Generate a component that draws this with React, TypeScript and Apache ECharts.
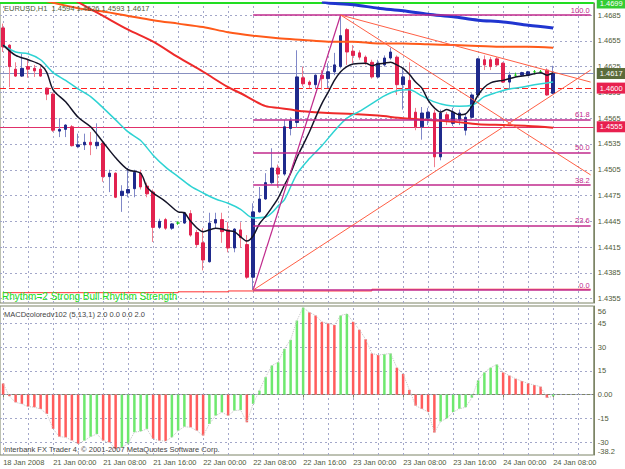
import React, { useEffect, useRef } from 'react';
import * as echarts from 'echarts';

// ---------- data ----------
const symbolName = 'EURUSD,H1';
const timeLabels = ['18 Jan 2008', '21 Jan 00:00', '21 Jan 08:00', '21 Jan 16:00', '22 Jan 00:00', '22 Jan 08:00',
  '22 Jan 16:00', '23 Jan 00:00', '23 Jan 08:00', '23 Jan 16:00', '24 Jan 00:00', '24 Jan 08:00'];
const priceTicks = [1.4355, 1.4385, 1.4415, 1.4445, 1.4475, 1.4505, 1.4535, 1.4565, 1.4595, 1.4625, 1.4655, 1.4685];
const macdTicks = [56, 45, 30, 15, 0, -15, -30, -38.2];
const macdGridLevels = [45, 30, 15, 0, -15, -30];

const opens = [1.4670, 1.4650, 1.4622, 1.4614, 1.4625, 1.4623, 1.4622, 1.4600, 1.4593, 1.4550,
  1.4552, 1.4555, 1.4532, 1.4534, 1.4537, 1.4533, 1.4536, 1.4497, 1.4501, 1.4475,
  1.4478, 1.4483, 1.4501, 1.4486, 1.4479, 1.4438, 1.4447, 1.4437, 1.4443, 1.4443,
  1.4454, 1.4432, 1.4420, 1.4398, 1.4443, 1.4447, 1.4435, 1.4414, 1.4435, 1.4418,
  1.4380, 1.4456, 1.4471, 1.4490, 1.4507, 1.4500, 1.4553, 1.4560, 1.4612, 1.4607,
  1.4604, 1.4615, 1.4611, 1.4619, 1.4625, 1.4668, 1.4643, 1.4641, 1.4636, 1.4630,
  1.4613, 1.4627, 1.4635, 1.4636, 1.4604, 1.4609, 1.4572, 1.4555, 1.4565, 1.4571,
  1.4520, 1.4569, 1.4559, 1.4563, 1.4551, 1.4566, 1.4592, 1.4633, 1.4633, 1.4634,
  1.4629, 1.4607, 1.4615, 1.4615, 1.4615, 1.4619, 1.4619, 1.4621, 1.4594];
const highs = [1.4675, 1.4651, 1.4630, 1.4640, 1.4634, 1.4627, 1.4625, 1.4601, 1.4595, 1.4565,
  1.4558, 1.4557, 1.4547, 1.4547, 1.4549, 1.4559, 1.4537, 1.4505, 1.4502, 1.4487,
  1.4507, 1.4505, 1.4505, 1.4490, 1.4482, 1.4448, 1.4449, 1.4443, 1.4445, 1.4456,
  1.4458, 1.4435, 1.4437, 1.4455, 1.4455, 1.4455, 1.4444, 1.4437, 1.4444, 1.4429,
  1.4466, 1.4485, 1.4501, 1.4530, 1.4511, 1.4563, 1.4566, 1.4644, 1.4625, 1.4609,
  1.4616, 1.4621, 1.4629, 1.4641, 1.4685, 1.4670, 1.4650, 1.4644, 1.4638, 1.4633,
  1.4633, 1.4638, 1.4647, 1.4638, 1.4623, 1.4630, 1.4577, 1.4578, 1.4577, 1.4575,
  1.4575, 1.4572, 1.4577, 1.4575, 1.4571, 1.4594, 1.4635, 1.4638, 1.4636, 1.4636,
  1.4630, 1.4619, 1.4618, 1.4619, 1.4620, 1.4621, 1.4621, 1.4623, 1.4626];
const lows = [1.4642, 1.4601, 1.4613, 1.4613, 1.4612, 1.4613, 1.4613, 1.4586, 1.4549, 1.4543,
  1.4543, 1.4532, 1.4530, 1.4528, 1.4522, 1.4529, 1.4491, 1.4479, 1.4472, 1.4456,
  1.4473, 1.4473, 1.4482, 1.4473, 1.4421, 1.4436, 1.4435, 1.4435, 1.4441, 1.4442,
  1.4427, 1.4415, 1.4388, 1.4397, 1.4437, 1.4420, 1.4409, 1.4409, 1.4414, 1.4378,
  1.4365, 1.4455, 1.4470, 1.4488, 1.4484, 1.4498, 1.4545, 1.4554, 1.4602, 1.4600,
  1.4600, 1.4598, 1.4600, 1.4615, 1.4623, 1.4627, 1.4629, 1.4633, 1.4627, 1.4611,
  1.4611, 1.4625, 1.4633, 1.4592, 1.4575, 1.4563, 1.4551, 1.4540, 1.4557, 1.4508,
  1.4516, 1.4557, 1.4556, 1.4557, 1.4545, 1.4565, 1.4591, 1.4621, 1.4621, 1.4625,
  1.4606, 1.4600, 1.4613, 1.4614, 1.4614, 1.4616, 1.4618, 1.4591, 1.4593];
const closes = [1.4648, 1.4625, 1.4614, 1.4623, 1.4622, 1.4620, 1.4614, 1.4593, 1.4551, 1.4552,
  1.4557, 1.4533, 1.4534, 1.4537, 1.4534, 1.4537, 1.4497, 1.4501, 1.4473, 1.4480,
  1.4482, 1.4502, 1.4485, 1.4477, 1.4438, 1.4445, 1.4437, 1.4442, 1.4443, 1.4455,
  1.4429, 1.4418, 1.4400, 1.4443, 1.4447, 1.4433, 1.4414, 1.4436, 1.4426, 1.4380,
  1.4456, 1.4471, 1.4490, 1.4507, 1.4500, 1.4555, 1.4562, 1.4613, 1.4605, 1.4604,
  1.4615, 1.4611, 1.4619, 1.4627, 1.4661, 1.4642, 1.4638, 1.4636, 1.4630, 1.4613,
  1.4629, 1.4635, 1.4642, 1.4604, 1.4613, 1.4565, 1.4555, 1.4571, 1.4572, 1.4520,
  1.4571, 1.4563, 1.4572, 1.4571, 1.4566, 1.4592, 1.4634, 1.4627, 1.4625, 1.4627,
  1.4607, 1.4615, 1.4615, 1.4618, 1.4619, 1.4619, 1.4619, 1.4592, 1.4617];

// fast MA (black)
const fastMaIdx = [0, 2, 4, 6, 7, 8, 10, 12, 14, 16, 18, 20, 22, 23, 24, 26, 28, 29, 30, 32, 34, 35, 36, 37, 38, 39,
  40, 41, 42, 43, 44, 45, 46, 47, 48, 49, 50, 51, 52, 53, 54, 55, 56, 58, 59, 60, 61, 62, 63, 64, 65, 66, 67, 68,
  69, 70, 71, 72, 73, 74, 75, 76, 77, 78, 79, 80, 82, 84, 86, 87, 88];
const fastMaVal = [1.4650, 1.4638, 1.4633, 1.4627, 1.4618, 1.4598, 1.4584, 1.4566, 1.4555, 1.4537, 1.4519, 1.4505,
  1.4501, 1.4485, 1.4478, 1.4468, 1.4456, 1.4455, 1.4445, 1.4433, 1.4437, 1.4436, 1.4434, 1.4433, 1.4427, 1.4422,
  1.4428, 1.4442, 1.4451, 1.4461, 1.4472, 1.4487, 1.4501, 1.4519, 1.4534, 1.4549, 1.4566, 1.4582, 1.4595, 1.4609,
  1.4619, 1.4625, 1.4628, 1.4629, 1.4626, 1.4628, 1.4629, 1.4630, 1.4627, 1.4623, 1.4616, 1.4607, 1.4600, 1.4586,
  1.4577, 1.4572, 1.4575, 1.4572, 1.4569, 1.4570, 1.4579, 1.4592, 1.4601, 1.4606, 1.4608, 1.4609, 1.4613, 1.4615,
  1.4618, 1.4615, 1.4618];
// medium MA (cyan)
const midMaIdx = [0, 2, 4, 6, 8, 10, 12, 14, 16, 18, 20, 22, 24, 26, 28, 30, 32, 34, 36, 38, 40, 42, 43, 44, 45, 47,
  49, 51, 53, 55, 57, 59, 61, 63, 65, 67, 69, 71, 73, 75, 77, 79, 81, 83, 85, 87, 88];
const midMaVal = [1.4650, 1.4642, 1.4640, 1.4633, 1.4618, 1.4609, 1.4599, 1.4590, 1.4577, 1.4563, 1.4549, 1.4539,
  1.4522, 1.4508, 1.4497, 1.4486, 1.4478, 1.4471, 1.4466, 1.4459, 1.4449, 1.4450, 1.4455, 1.4463, 1.4470, 1.4500,
  1.4518, 1.4533, 1.4550, 1.4565, 1.4573, 1.4582, 1.4591, 1.4597, 1.4598, 1.4591, 1.4584, 1.4580, 1.4579, 1.4580,
  1.4590, 1.4595, 1.4599, 1.4601, 1.4604, 1.4606, 1.4607];
// slow MA (red)
const slowMaIdx = [10, 12, 16, 20, 24, 28, 32, 36, 38, 40, 42, 44, 46, 48, 52, 56, 60, 64, 68, 72, 76, 80, 84, 88];
const slowMaVal = [1.4708, 1.4700, 1.4684, 1.4668, 1.4654, 1.4636, 1.4619, 1.4601, 1.4594, 1.4586, 1.4579, 1.4577,
  1.4575, 1.4573, 1.4571, 1.4570, 1.4568, 1.4565, 1.4563, 1.4561, 1.4558, 1.4557, 1.4556, 1.4554];
// long MA (orange)
const longMaIdx = [7, 12, 16, 20, 24, 28, 32, 36, 40, 44, 48, 52, 56, 60, 64, 68, 72, 76, 80, 84, 88];
const longMaVal = [1.4701, 1.4693, 1.4689, 1.4684, 1.4679, 1.4675, 1.4671, 1.4665, 1.4661, 1.4658, 1.4656, 1.4654,
  1.4654, 1.4652, 1.4652, 1.4651, 1.4650, 1.4649, 1.4648, 1.4648, 1.4647];
// very long MA (blue)
const trendMaIdx = [51, 52, 56, 60, 64, 68, 72, 76, 80, 84, 88];
const trendMaVal = [1.4700, 1.4699, 1.4697, 1.4693, 1.4690, 1.4686, 1.4683, 1.4679, 1.4677, 1.4673, 1.4670];
// rhythm indicator line at the bottom
const rhythmIdx = [0, 28, 36, 59, 94];
const rhythmVal = [1.4362, 1.4363, 1.4364, 1.4366, 1.4366];

// Fibonacci retracement
const fibStartIdx = 40;
const fibHighIdx = 54;
const fibEndIdx = 94;
const fibLow = 1.4365;
const fibHigh = 1.4685;
const fibLabels = ['0.0', '23.6', '38.2', '50.0', '61.8', '100.0'];
const fibLevels = [1.4365, 1.4440, 1.4487, 1.4525, 1.4563, 1.4685];
// trend lines: [startIdx, startPrice, endIdx, endPrice]
const trendLines = [[40, 1.4365, 94, 1.4621], [54, 1.4685, 94, 1.4607], [54, 1.4685, 94, 1.4499]];

// horizontal levels
const bidPrice = 1.4617;
const levelRed = 1.4600;
const levelRed2 = 1.4555;
const levelGreen = 1.4699;

const macd = [7, -1, -4.9, -5.9, -7.6, -8, -9.1, -12.2, -21.7, -26.6,
  -27, -29, -31.2, -29.1, -26.6, -24.9, -29.1, -30.2, -34.4, -33.3,
  -31, -23.8, -23.2, -21.7, -28, -29.1, -29.4, -27, -22.8, -20.3,
  -20.7, -22.8, -25.9, -18.6, -13.3, -11.2, -13.3, -10.1, -9.8, -17.5,
  -5.9, 2.5, 11, 18.4, 20.4, 28.9, 34.6, 46.8, 55, 52,
  50, 46, 45, 44, 50, 51, 46, 41, 35, 26,
  25, 25.5, 26, 17, 13, 3, -7, -9, -11, -24,
  -17, -15, -11, -9, -8, -2, 9, 14, 17, 19,
  14, 12, 10, 8.5, 7, 6, 5, -2, -1];

// ---------- styling ----------
const SLOTS = 95;
const FONT = 'Liberation Sans';
const TXT = '#4f5a3a';
const FRAME = '#7c8466';
const BULL = '#1f2a8c';
const BEAR = '#e2224f';
const BULL_WICK = '#8088c8';
const BEAR_WICK = '#f0808f';
const DOJI = '#22cc22';
const FIB = '#c02a8c';
const TREND = '#ff5f45';

export default function App() {
  const ref = useRef<HTMLDivElement>(null);
  useEffect(() => {
    document.body.style.margin = '0';
    if (!ref.current) return;
    const chart = echarts.init(ref.current, null, { renderer: 'svg' });
    const cats = Array.from({ length: SLOTS }, (_, i) => String(i));
    const vertIdx = Array.from({ length: 24 }, (_, k) => k * 4);
    const gridStyle = { color: '#a3a7c9', width: 1, type: [2, 3] };
    const dojiStyle = { color: DOJI, color0: DOJI, borderColor: DOJI, borderColor0: DOJI };
    const macdMax = macdTicks[0];
    const macdMin = macdTicks[macdTicks.length - 1];

    const wickData = opens.map((o, i) => {
      const item: any = { value: [o, closes[i], lows[i], highs[i]] };
      if (o === closes[i]) item.itemStyle = dojiStyle;
      return item;
    });
    const bodyData = opens.map((o, i) => {
      const c = closes[i];
      const item: any = { value: [o, c, Math.min(o, c), Math.max(o, c)] };
      if (o === c) item.itemStyle = dojiStyle;
      return item;
    });
    const pairs = (idx: number[], vals: number[]) => idx.map((x, k) => [x, vals[k]]);
    const ma = (idx: number[], vals: number[], color: string, width: number) => ({
      type: 'line', xAxisIndex: 0, yAxisIndex: 0, data: pairs(idx, vals), symbol: 'none',
      smooth: 0.3, lineStyle: { color, width }, silent: true, z: 6,
    });
    const level = (price: string | number, lineColor: string, width: number, type: any, boxBg: string) => ({
      type: 'line', xAxisIndex: 0, yAxisIndex: 0, data: [], silent: true, color: lineColor,
      markLine: {
        z: 3, silent: true, precision: 6, symbol: ['none', 'none'], emphasis: { disabled: true },
        lineStyle: { color: lineColor, width, type, opacity: 1 },
        label: { show: true, position: 'end', formatter: Number(price).toFixed(4), color: '#ffffff', backgroundColor: boxBg,
          padding: [2, 3, 1, 3], fontSize: 7.5, fontFamily: FONT, distance: 3 },
        data: [{ yAxis: Number(price) }],
      },
    });

    const option: any = {
      animation: false,
      backgroundColor: '#ffffff',
      textStyle: { fontFamily: FONT },
      grid: [
        { left: 0, right: 31.25, top: 3, height: 300, show: true, borderColor: FRAME, borderWidth: 1 },
        { left: 0, right: 31.25, top: 306, height: 149, show: true, borderColor: FRAME, borderWidth: 1 },
      ],
      xAxis: [
        { type: 'category', gridIndex: 0, data: cats, boundaryGap: true, axisLine: { show: false },
          axisTick: { show: false }, axisLabel: { show: false }, splitLine: { show: false } },
        { type: 'category', gridIndex: 1, data: cats, boundaryGap: true,
          axisLine: { show: true, lineStyle: { color: FRAME } },
          axisTick: { show: true, interval: 7, alignWithLabel: true, length: 3, lineStyle: { color: FRAME } },
          axisLabel: { show: true, interval: 7, align: 'left', margin: 3, fontSize: 7.5, color: TXT, fontFamily: FONT,
            formatter: (_v: string, idx: number) => (idx % 8 === 0 ? timeLabels[idx / 8] ?? '' : '') },
          splitLine: { show: false } },
      ],
      yAxis: [
        { type: 'value', gridIndex: 0, position: 'right', min: 1.4350, max: 1.4699, scale: true,
          axisLine: { show: true, lineStyle: { color: FRAME } }, axisTick: { show: false }, splitLine: { show: false },
          axisLabel: { show: true, customValues: priceTicks, formatter: (v: number) => v.toFixed(4),
            margin: 4, fontSize: 7.5, color: TXT, fontFamily: FONT } },
        { type: 'value', gridIndex: 1, position: 'right', min: macdMin, max: macdMax,
          axisLine: { show: true, lineStyle: { color: FRAME } }, axisTick: { show: false }, splitLine: { show: false },
          axisLabel: { show: true, customValues: macdTicks,
            formatter: (v: number) => {
              const t = v === 0 ? '0.00' : String(v);
              if (v === macdMax) return `{top|${t}}`;
              if (v === macdMin) return `{bot|${t}}`;
              return t;
            },
            rich: {
              top: { padding: [10, 0, 0, 0], fontSize: 7.5, color: TXT, fontFamily: FONT },
              bot: { padding: [0, 0, 8, 0], fontSize: 7.5, color: TXT, fontFamily: FONT },
            },
            margin: 4, fontSize: 7.5, color: TXT, fontFamily: FONT } },
      ],
      graphic: [
        { type: 'text', left: 4, top: 4, z: 100, style: {
          text: `${symbolName}  ${opens[88].toFixed(4)} ${highs[88].toFixed(4)} ${lows[88].toFixed(4)} ${closes[88].toFixed(4)}`,
          fill: TXT, fontSize: 7.5, fontFamily: FONT } },
        { type: 'text', left: 2, top: 291, z: 100, style: {
          text: 'Rhythm=2 Strong Bull Rhythm Strength', fill: '#22dd22', fontSize: 10, fontFamily: FONT } },
        { type: 'text', left: 4, top: 310, z: 100, style: {
          text: 'MACDcoloredv102 (5,13,1) 2.0 0.0 0.0 2.0', fill: '#444444', fontSize: 7.5, fontFamily: FONT } },
        { type: 'text', left: 4, top: 445, z: 100, style: {
          text: 'Interbank FX Trader 4, \u00a9 2001-2007 MetaQuotes Software Corp.', fill: '#444444', fontSize: 7.5, fontFamily: FONT } },
      ],
      series: [
        // grid lines main
        { type: 'line', xAxisIndex: 0, yAxisIndex: 0, data: [], silent: true,
          markLine: { z: 1, silent: true, precision: 6, symbol: ['none', 'none'], label: { show: false }, lineStyle: gridStyle,
            emphasis: { disabled: true },
            data: [...priceTicks.map((v) => ({ yAxis: v })), ...vertIdx.map((i) => ({ xAxis: i }))] } },
        // grid lines macd
        { type: 'line', xAxisIndex: 1, yAxisIndex: 1, data: [], silent: true,
          markLine: { z: 1, silent: true, precision: 6, symbol: ['none', 'none'], label: { show: false }, lineStyle: gridStyle,
            emphasis: { disabled: true },
            data: [...macdGridLevels.map((v) => ({ yAxis: v })), ...vertIdx.map((i) => ({ xAxis: i }))] } },
        // rhythm line
        { type: 'line', xAxisIndex: 0, yAxisIndex: 0, data: pairs(rhythmIdx, rhythmVal), step: 'end', symbol: 'none',
          lineStyle: { color: '#ff3030', width: 1 }, silent: true, z: 2 },
        // horizontal level lines with price boxes
        level(levelGreen, '#22dd22', 2, 'solid', '#33cc33'),
        level(levelRed2, '#e0306a', 1.2, 'solid', '#e8204f'),
        level(bidPrice, '#8890c0', 1, 'solid', '#5b6b3b'),
        level(levelRed, '#ff2020', 1, [6, 3], '#e8204f'),
        // candles: wicks then bodies
        { type: 'candlestick', xAxisIndex: 0, yAxisIndex: 0, data: wickData, barWidth: 1, silent: true, z: 4,
          itemStyle: { color: BULL_WICK, color0: BEAR_WICK, borderColor: BULL_WICK, borderColor0: BEAR_WICK, borderWidth: 1 } },
        { type: 'candlestick', xAxisIndex: 0, yAxisIndex: 0, data: bodyData, barWidth: 3, silent: true, z: 5,
          itemStyle: { color: BULL, color0: BEAR, borderColor: BULL, borderColor0: BEAR, borderWidth: 1 } },
        // moving averages
        ma(longMaIdx, longMaVal, '#ff5a1a', 2),
        ma(slowMaIdx, slowMaVal, '#ee2a2a', 2),
        ma(trendMaIdx, trendMaVal, '#2035d0', 3),
        ma(midMaIdx, midMaVal, '#2ed3d3', 1.5),
        ma(fastMaIdx, fastMaVal, '#141428', 1.5),
        // fibonacci + trend lines
        { type: 'line', xAxisIndex: 0, yAxisIndex: 0, data: [], silent: true,
          markLine: { z: 7, silent: true, precision: 6, symbol: ['none', 'none'], label: { show: false }, emphasis: { disabled: true },
            data: [
              ...fibLevels.map((lv, k) => [
                { coord: [fibStartIdx, lv], lineStyle: { color: FIB, width: 1.5, type: 'solid' },
                  label: { show: true, formatter: fibLabels[k], position: 'insideEndTop', color: FIB, fontSize: 7.5,
                    fontFamily: FONT, distance: 1 } },
                { coord: [fibEndIdx, lv] },
              ]),
              [{ coord: [fibStartIdx, fibLow], lineStyle: { color: FIB, width: 1.2, type: 'solid' } },
                { coord: [fibHighIdx, fibHigh] }],
              ...trendLines.map((t) => [
                { coord: [t[0], t[1]], lineStyle: { color: TREND, width: 1, type: 'solid' } },
                { coord: [t[2], t[3]] },
              ]),
            ] } },
        // MACD histogram
        { type: 'bar', xAxisIndex: 1, yAxisIndex: 1, barWidth: 2.5, silent: true, z: 3,
          data: macd.map((v, i) => ({ value: v, itemStyle: { color: i > 0 && v >= macd[i - 1] ? '#6ee86e' : '#ff5c5c' } })) },
        { type: 'line', xAxisIndex: 1, yAxisIndex: 1, data: macd, symbol: 'none', silent: true, z: 4,
          lineStyle: { color: '#c4c4c4', width: 1, type: 'dotted' } },
      ],
    };
    chart.setOption(option);
    return () => chart.dispose();
  }, []);
  return <div ref={ref} style={{ position: 'fixed', left: 0, top: 0, width: 625, height: 469 }} />;
}
